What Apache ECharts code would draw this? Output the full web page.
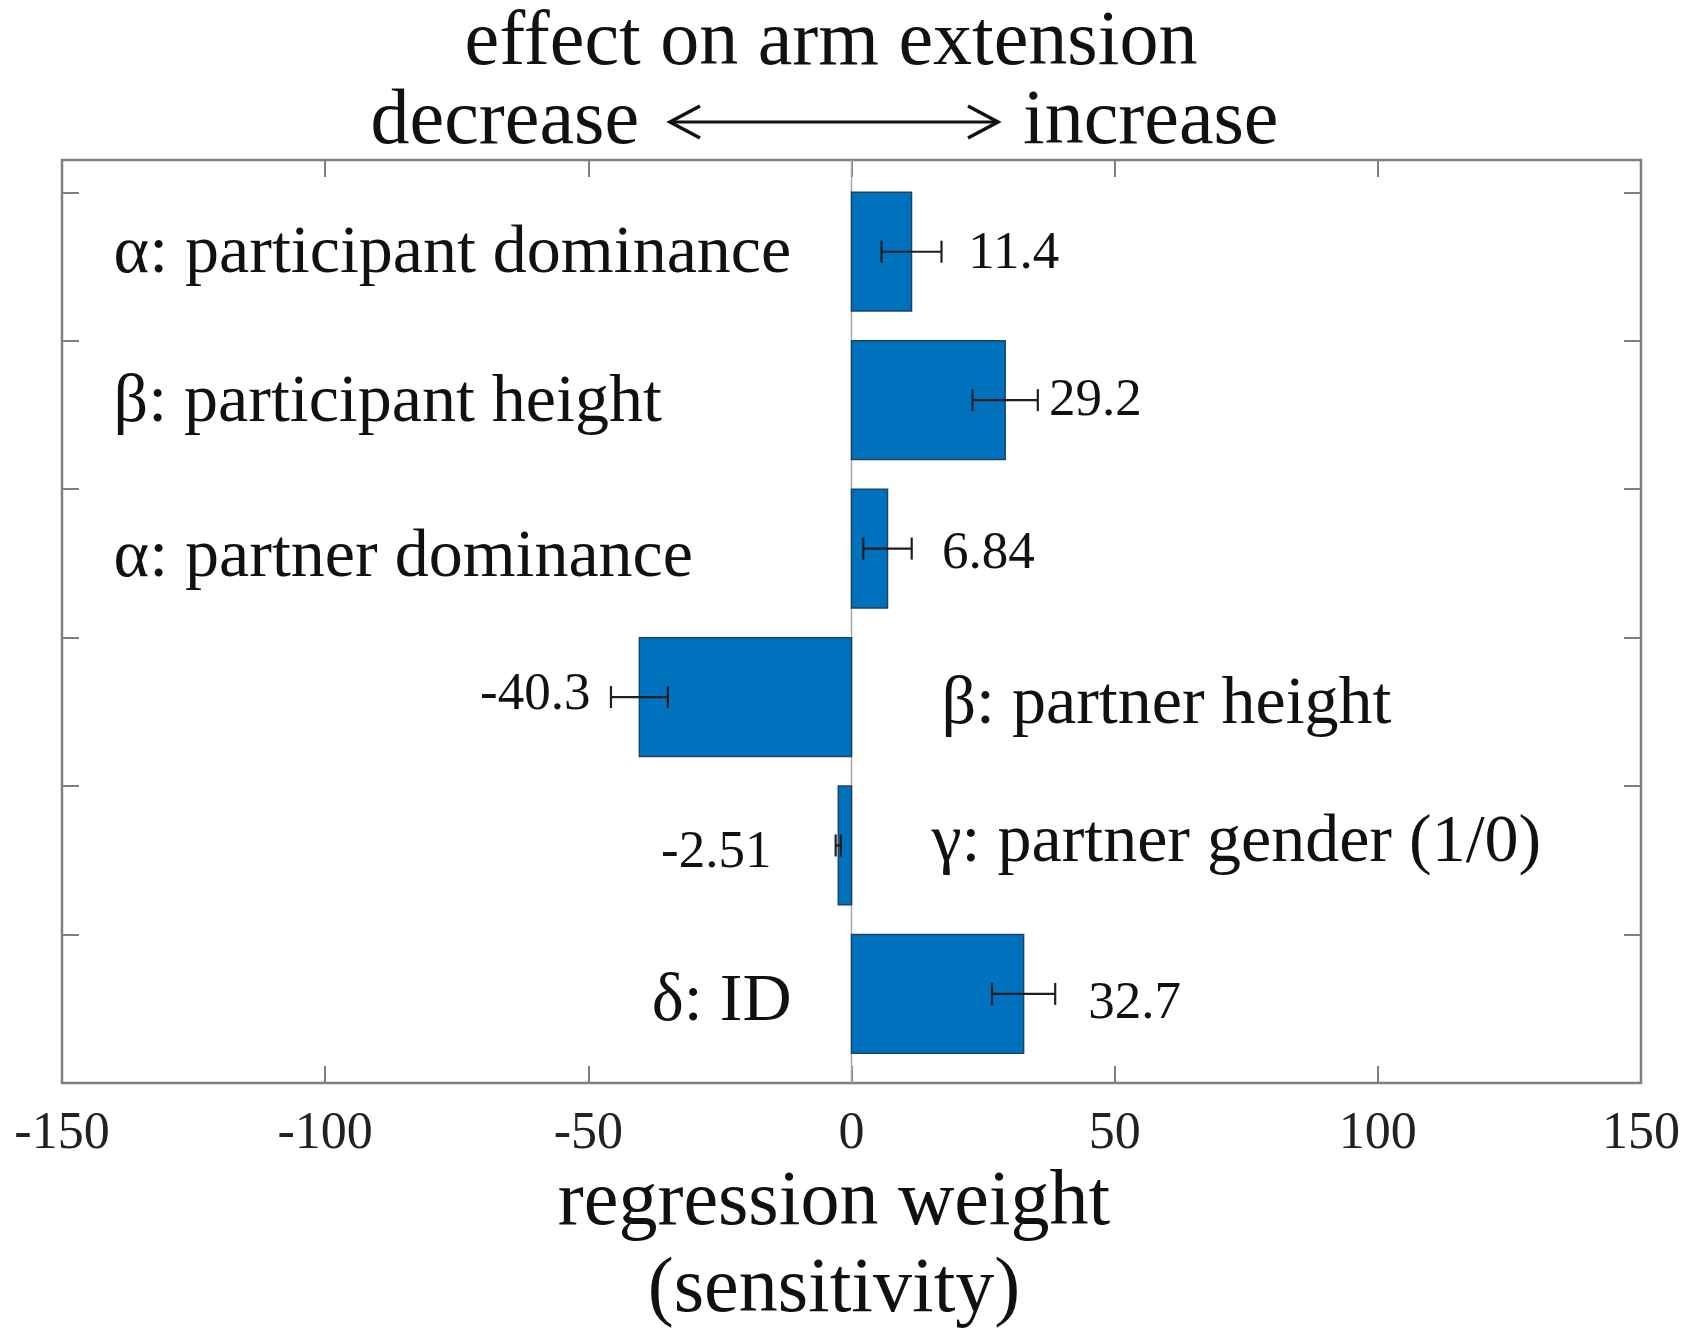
<!DOCTYPE html>
<html>
<head>
<meta charset="utf-8">
<script src="https://cdn.jsdelivr.net/npm/echarts@6/dist/echarts.min.js"></script>
<style>
  html, body { margin: 0; padding: 0; background: #ffffff; }
  #chart { width: 1693px; height: 1335px; }
</style>
</head>
<body>
<div id="chart"></div>
<script>
// Regression weights of each predictor on arm extension (top to bottom)
const categories = [
  'α: participant dominance',
  'β: participant height',
  'α: partner dominance',
  'β: partner height',
  'γ: partner gender (1/0)',
  'δ: ID'
];
const weights = [11.4, 29.2, 6.84, -40.3, -2.51, 32.7];
const errors = [5.7, 6.2, 4.6, 5.4, 0.5, 6.0];
const xTicks = [-150, -100, -50, 0, 50, 100, 150];

// Where the value and predictor labels sit: x in axis units, dy in pixels
const valueLabelX = [22.2, 37.5, 17.2, -49.6, -15.2, 45.0];
const valueLabelDy = [2, 1, 5, -2, 8, 10];
const nameLabelX = [-140.2, -140.2, -140.2, 17.1, 15.2, -11.4];
const nameLabelDy = [2, 3, 10, 8, -2, 8];
const nameLabelAlign = ['left', 'left', 'left', 'left', 'left', 'right'];

const SERIF = '"Liberation Serif", "DejaVu Serif", serif';
const n = categories.length;
const yMax = n + 0.218;
const slotOf = i => n - 1 - i;

const chart = echarts.init(document.getElementById('chart'), null, { renderer: 'canvas' });

function barItem(params, api) {
  const v = api.value(0), s = api.value(1);
  const a = api.coord([0, s + 1.0]);
  const b = api.coord([v, s + 0.2]);
  return {
    type: 'rect',
    shape: { x: Math.min(a[0], b[0]), y: a[1], width: Math.abs(b[0] - a[0]), height: b[1] - a[1] },
    style: { fill: '#0072BD', stroke: '#1b4368', lineWidth: 1.5 }
  };
}

function errItem(params, api) {
  const v = api.value(0), s = api.value(1), e = api.value(2);
  const l = api.coord([v - e, s + 0.6]);
  const r = api.coord([v + e, s + 0.6]);
  const cap = 11;
  const st = { stroke: '#1f1f1f', lineWidth: 2.2 };
  return {
    type: 'group',
    children: [
      { type: 'line', shape: { x1: l[0], y1: l[1], x2: r[0], y2: r[1] }, style: st },
      { type: 'line', shape: { x1: l[0], y1: l[1] - cap, x2: l[0], y2: l[1] + cap }, style: st },
      { type: 'line', shape: { x1: r[0], y1: r[1] - cap, x2: r[0], y2: r[1] + cap }, style: st }
    ]
  };
}

function textItem(size, textOf, alignOf, dyOf) {
  return function (params, api) {
    const x = api.value(0), s = api.value(1);
    const p = api.coord([x, s + 0.6]);
    const i = params.dataIndex;
    return {
      type: 'text',
      x: p[0], y: p[1] + dyOf(i),
      style: {
        text: textOf(i),
        font: size + 'px ' + SERIF,
        fill: '#111111',
        align: alignOf(i),
        verticalAlign: 'middle'
      }
    };
  };
}

const tickStyle = { show: true, inside: true, length: 17, lineStyle: { color: '#7f7f7f', width: 2 } };
const noLine = { show: false, onZero: false };

const option = {
  backgroundColor: '#ffffff',
  animation: false,
  grid: { left: 62, right: 52, top: 160, bottom: 252, show: true, borderColor: '#7f7f7f', borderWidth: 2.5 },
  xAxis: [
    {
      type: 'value', min: xTicks[0], max: xTicks[xTicks.length - 1], interval: 50,
      position: 'bottom',
      axisLine: noLine, splitLine: { show: false },
      axisTick: tickStyle,
      axisLabel: { fontFamily: SERIF, fontSize: 52, color: '#222222', margin: 25, lineHeight: 52 }
    },
    {
      type: 'value', min: xTicks[0], max: xTicks[xTicks.length - 1], interval: 50,
      position: 'top',
      axisLine: noLine, splitLine: { show: false },
      axisTick: tickStyle, axisLabel: { show: false }
    }
  ],
  yAxis: [
    {
      type: 'value', min: 0, max: yMax, interval: 1, position: 'left',
      axisLine: noLine, splitLine: { show: false },
      axisTick: tickStyle, axisLabel: { show: false }
    },
    {
      type: 'value', min: 0, max: yMax, interval: 1, position: 'right',
      axisLine: noLine, splitLine: { show: false },
      axisTick: tickStyle, axisLabel: { show: false }
    }
  ],
  series: [
    {
      type: 'line', silent: true, symbol: 'none', z: 1,
      lineStyle: { color: '#a8a8a8', width: 1.5 },
      data: [[0, 0], [0, yMax]]
    },
    {
      type: 'custom', z: 2, renderItem: barItem,
      data: weights.map((w, i) => [w, slotOf(i)])
    },
    {
      type: 'custom', z: 3, renderItem: errItem,
      data: weights.map((w, i) => [w, slotOf(i), errors[i]])
    },
    {
      type: 'custom', z: 4,
      renderItem: textItem(53, i => String(weights[i]), i => (weights[i] < 0 ? 'right' : 'left'), i => valueLabelDy[i]),
      data: weights.map((w, i) => [valueLabelX[i], slotOf(i)])
    },
    {
      type: 'custom', z: 4,
      renderItem: textItem(68, i => categories[i], i => nameLabelAlign[i], i => nameLabelDy[i]),
      data: categories.map((c, i) => [nameLabelX[i], slotOf(i)])
    }
  ],
  graphic: [
    {
      type: 'text', x: 831, y: 44,
      style: { text: 'effect on arm extension', font: '78px ' + SERIF, fill: '#111111', align: 'center', verticalAlign: 'middle' }
    },
    {
      type: 'text', x: 639, y: 123,
      style: { text: 'decrease', font: '78px ' + SERIF, fill: '#111111', align: 'right', verticalAlign: 'middle' }
    },
    {
      type: 'text', x: 1023, y: 123,
      style: { text: 'increase', font: '78px ' + SERIF, fill: '#111111', align: 'left', verticalAlign: 'middle' }
    },
    {
      type: 'group',
      children: [
        { type: 'line', shape: { x1: 670, y1: 122, x2: 998, y2: 122 }, style: { stroke: '#111111', lineWidth: 3 } },
        { type: 'polyline', shape: { points: [[700, 106], [670, 122], [700, 138]] }, style: { stroke: '#111111', lineWidth: 3.5, fill: null } },
        { type: 'polyline', shape: { points: [[968, 106], [998, 122], [968, 138]] }, style: { stroke: '#111111', lineWidth: 3.5, fill: null } }
      ]
    },
    {
      type: 'text', x: 834, y: 1204,
      style: { text: 'regression weight', font: '78px ' + SERIF, fill: '#111111', align: 'center', verticalAlign: 'middle' }
    },
    {
      type: 'text', x: 834, y: 1291,
      style: { text: '(sensitivity)', font: '78px ' + SERIF, fill: '#111111', align: 'center', verticalAlign: 'middle' }
    }
  ]
};

chart.setOption(option);
</script>
</body>
</html>
